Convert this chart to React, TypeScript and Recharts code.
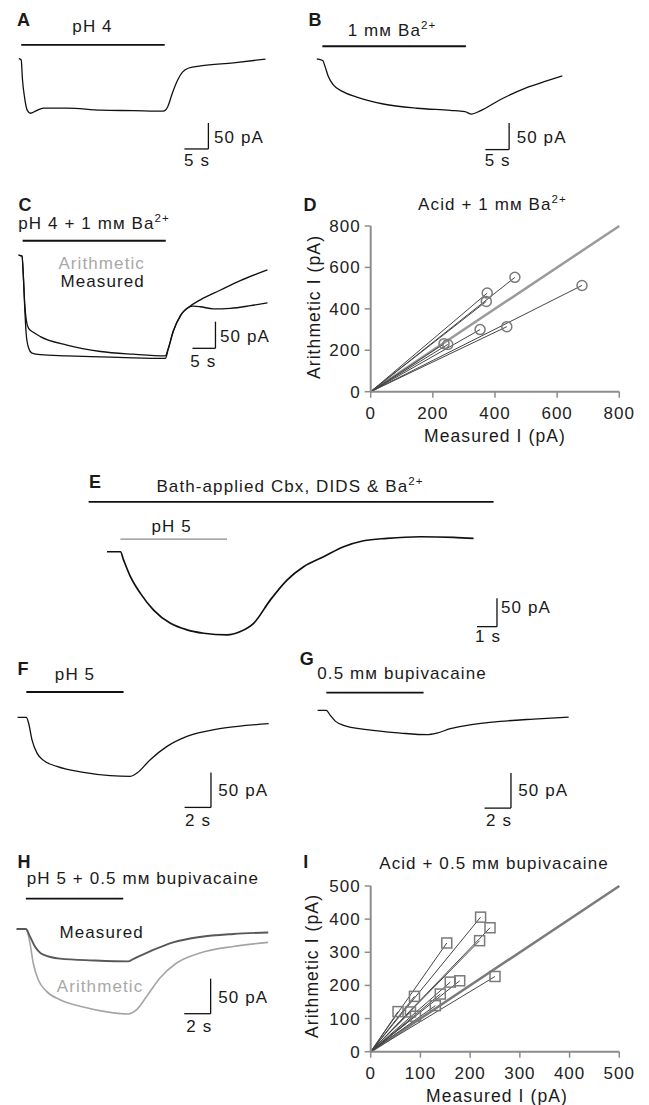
import React from 'react';
import {
  LineChart,
  Line,
  XAxis,
  YAxis,
  ReferenceLine,
  ScatterChart,
  Scatter,
} from 'recharts';

// Traces: [time (s), current (pA)]
const traceA = [[0, 0], [0.5, -2.5], [0.77, -41], [1.19, -74], [1.75, -99], [2.44, -105], [3.48, -101], [5.15, -95], [10.1, -95], [17, -99], [23.9, -100], [30.1, -101], [31, -93], [32, -66], [33.1, -41], [34.1, -26], [35.4, -18], [37.9, -14], [44.7, -8], [51.4, -1]];
const traceB = [[0, 0], [1.26, -3], [1.75, -14.5], [2.44, -33], [3.49, -49], [5.6, -62], [8.42, -72], [14, -85], [21.1, -93], [28.1, -97], [31.2, -99.4], [32.6, -104], [34.4, -98], [38.6, -77], [44.2, -54], [48.4, -41.5], [51.7, -32]];
const traceCMeasured = [[0, 0], [0.74, -2], [1.02, -37.5], [1.35, -103], [1.67, -150], [2.17, -174], [2.91, -184], [4.72, -187], [10.5, -189], [17.8, -191], [24.9, -193], [31.9, -194], [32.5, -178], [33.6, -144], [35.2, -114], [36.9, -98.5], [38, -96], [39.5, -97], [42.3, -101], [46, -100], [50.4, -95], [54.1, -89.5]];
const traceCArith = [[0, 0], [0.74, -2], [1.02, -37.5], [1.35, -94], [1.67, -122], [2.17, -137.5], [3.2, -145], [4.72, -153], [10.5, -169], [17.8, -181], [24.9, -186], [31.9, -189], [32.5, -176], [33.6, -143], [35.2, -113], [36.9, -98.5], [39.5, -84], [43.8, -66], [48.2, -48], [54.1, -28]];
const traceE = [[0, 0], [0.67, 0], [0.83, -14.7], [1.17, -44], [1.67, -73.5], [2.33, -103], [3.17, -126.5], [4, -138], [4.83, -144], [6, -147], [6.67, -141], [7.33, -126.5], [8.17, -85], [9, -50], [9.83, -26.5], [10.83, -8.8], [11.83, 8.8], [12.83, 19.4], [14, 23.7], [15.67, 26.5], [17.33, 25.4], [18.33, 23.7]];
const traceF = [[0, 0], [0.66, 0], [0.83, -8], [1.09, -32], [1.47, -51], [1.97, -61.4], [2.98, -70], [5, -78.6], [7.02, -83.3], [8.54, -84.3], [9.05, -79.4], [10.05, -60.4], [11.32, -41.4], [12.83, -27.1], [15.1, -16.6], [17.12, -11.9], [19.02, -9]];
const traceG = [[0, 0], [0.66, 0], [0.96, -7.1], [1.34, -15.3], [1.97, -21.4], [3.74, -27.6], [6.27, -32.4], [8.29, -34.7], [9.05, -32.4], [10.05, -26.1], [11.32, -21.4], [13.84, -15.7], [16.36, -12.4], [19.02, -9.6]];
const traceHMeasured = [[0, 0], [0.7, 0], [1.01, -10.6], [1.39, -24.9], [2.02, -36.7], [3.28, -42.4], [5.8, -44.9], [8.45, -46.3], [8.83, -42.9], [10.1, -32], [11.86, -19.1], [13.89, -11.4], [16.41, -7.1], [19.06, -4.9]];
const traceHArith = [[0, 0], [0.7, 0], [1.01, -20], [1.26, -48.6], [1.64, -72.4], [2.27, -89.1], [3.28, -101], [5.05, -111.4], [7.07, -119.1], [8.45, -121.4], [9.09, -115.3], [9.85, -96.3], [10.86, -70], [12.12, -48.6], [13.89, -34.3], [16.41, -24.9], [19.06, -19.1]];

// Application periods (s)
const barA = [0.5, 30.4];
const barB = [1.18, 31.4];
const barC = [0.87, 32];
const barEBath = [-0.92, 19.33];
const barEAcid = [0.67, 6];
const barF = [0.66, 8.03];
const barG = [0.66, 8.03];
const barH = [0.7, 8.08];

// Scatter: measured vs arithmetic sum (pA)
const dMeasured = [464, 375, 372, 352, 438, 680, 236, 248];
const dArith = [552, 476, 436, 300, 314, 513, 232, 228];
const iMeasured = [221, 240, 219, 153, 88, 55, 80, 90, 130, 140, 160, 179, 250];
const iArith = [406, 374, 335, 328, 167, 121, 120, 107, 139, 174, 210, 214, 227];
const dTicks = [0, 200, 400, 600, 800];
const iTicks = [0, 100, 200, 300, 400, 500];

const FONT = '"Liberation Sans", Arial, Helvetica, sans-serif';
const toPts = (arr: number[][]) => arr.map(([t, i]) => ({ t, i }));

function Txt({ x, y, anchor = 'middle', size = 17, color = '#1a1a1a', bold = false, rotate = false, children }: any) {
  const tx = anchor === 'middle' ? '-50%' : anchor === 'end' ? '-100%' : '0';
  return (
    <div
      style={{
        position: 'absolute',
        left: x,
        top: y,
        transform: `translate(${tx}, -50%)${rotate ? ' rotate(-90deg)' : ''}`,
        fontSize: size,
        fontWeight: bold ? 700 : 400,
        letterSpacing: bold ? 0 : 1.1,
        color,
        lineHeight: 1,
        whiteSpace: 'nowrap',
      }}
    >
      {children}
    </div>
  );
}

const Sup = ({ children }: any) => (
  <sup style={{ fontSize: '0.68em', lineHeight: 0, verticalAlign: '0.55em' }}>{children}</sup>
);

interface Series { data: number[][]; color: string; width: number }
interface Bar { span: number[]; level: number; color?: string; width?: number }

function TracePanel({ x0, y0, sx, sy, t, i, series, bars, scale }: {
  x0: number; y0: number; sx: number; sy: number; t: number[]; i: number[];
  series: Series[]; bars: Bar[]; scale: { t: number; i: number; dt: number; di: number };
}) {
  const left = x0 + t[0] * sx;
  const width = (t[1] - t[0]) * sx;
  const top = y0 - i[1] * sy;
  const height = (i[1] - i[0]) * sy;
  return (
    <div style={{ position: 'absolute', left, top }}>
      <LineChart width={width} height={height} margin={{ top: 0, right: 0, bottom: 0, left: 0 }}>
        <XAxis type="number" dataKey="t" domain={t} allowDataOverflow hide />
        <YAxis type="number" dataKey="i" domain={i} allowDataOverflow hide />
        {bars.map((b, k) => (
          <ReferenceLine
            key={k}
            segment={[{ x: b.span[0], y: b.level }, { x: b.span[1], y: b.level }]}
            stroke={b.color || '#111'}
            strokeWidth={b.width || 1.8}
          />
        ))}
        <ReferenceLine
          segment={[{ x: scale.t, y: scale.i }, { x: scale.t, y: scale.i - scale.di }]}
          stroke="#111"
          strokeWidth={1.3}
        />
        <ReferenceLine
          segment={[{ x: scale.t - scale.dt, y: scale.i - scale.di }, { x: scale.t, y: scale.i - scale.di }]}
          stroke="#111"
          strokeWidth={1.3}
        />
        {series.map((s, k) => (
          <Line
            key={k}
            data={toPts(s.data)}
            dataKey="i"
            type="monotone"
            dot={false}
            stroke={s.color}
            strokeWidth={s.width}
            isAnimationActive={false}
          />
        ))}
      </LineChart>
    </div>
  );
}

const circleMarker = (p: any) => (
  <circle cx={p.cx} cy={p.cy} r={5} fill="none" stroke="#7a7a7a" strokeWidth={1.5} />
);
const squareMarker = (p: any) => (
  <rect x={p.cx - 5} y={p.cy - 5} width={10} height={10} fill="none" stroke="#7a7a7a" strokeWidth={1.5} />
);

function ScatterPanel({ left, top, height, max, ticks, xs, ys, marker, unityColor }: any) {
  const pts = xs.map((x: number, k: number) => ({ x, y: ys[k] }));
  const axisStyle = { stroke: '#8c8c8c', strokeWidth: 2 };
  const tickStyle = { fill: '#222', fontSize: 17, letterSpacing: 1 };
  return (
    <div style={{ position: 'absolute', left, top }}>
      <ScatterChart
        width={340}
        height={height}
        margin={{ top: 36, right: 20.7, bottom: height - 36 - 165.7 - 30, left: 20.7 }}
      >
        <XAxis
          type="number"
          dataKey="x"
          domain={[0, max]}
          ticks={ticks}
          height={30}
          axisLine={axisStyle}
          tickLine={{ stroke: '#8c8c8c', strokeWidth: 1.5 }}
          tickSize={6}
          tickMargin={9}
          tick={tickStyle}
        />
        <YAxis
          type="number"
          dataKey="y"
          domain={[0, max]}
          ticks={ticks}
          width={50}
          axisLine={axisStyle}
          tickLine={{ stroke: '#8c8c8c', strokeWidth: 1.5 }}
          tickSize={6}
          tickMargin={4}
          tick={tickStyle}
        />
        <ReferenceLine segment={[{ x: 0, y: 0 }, { x: max, y: max }]} stroke={unityColor} strokeWidth={2.5} />
        {pts.map((p: any, k: number) => (
          <ReferenceLine key={k} segment={[{ x: 0, y: 0 }, p]} stroke="#454545" strokeWidth={1} />
        ))}
        <Scatter data={pts} shape={marker} isAnimationActive={false} />
      </ScatterChart>
    </div>
  );
}

export default function App() {
  return (
    <div
      style={{
        position: 'absolute',
        left: 0,
        top: 0,
        width: 649,
        height: 1105,
        background: '#fff',
        fontFamily: FONT,
        overflow: 'hidden',
      }}
    >
      {/* A */}
      <TracePanel x0={18.3} y0={58.7} sx={4.8} sy={0.52} t={[-1, 55]} i={[-180, 32]}
        series={[{ data: traceA, color: '#111', width: 1.3 }]}
        bars={[{ span: barA, level: 26.3 }]}
        scale={{ t: 39.5, i: -123.7, dt: 5, di: 50 }} />
      <Txt x={23.5} y={20} size={18} bold>A</Txt>
      <Txt x={92.5} y={26}>pH 4</Txt>
      <Txt x={214} y={137} anchor="start">50 pA</Txt>
      <Txt x={197} y={160}>5 s</Txt>

      {/* B */}
      <TracePanel x0={316.7} y0={59} sx={4.75} sy={0.53} t={[-1, 55]} i={[-180, 32]}
        series={[{ data: traceB, color: '#111', width: 1.3 }]}
        bars={[{ span: barB, level: 24 }]}
        scale={{ t: 40.5, i: -121, dt: 5, di: 50 }} />
      <Txt x={315} y={20} size={18} bold>B</Txt>
      <Txt x={392} y={30}>1 mм Ba<Sup>2+</Sup></Txt>
      <Txt x={516.7} y={137} anchor="start">50 pA</Txt>
      <Txt x={497.7} y={160}>5 s</Txt>

      {/* C */}
      <TracePanel x0={18.3} y0={255} sx={4.6} sy={0.533} t={[-1, 56]} i={[-200, 32]}
        series={[
          { data: traceCArith, color: '#111', width: 1.3 },
          { data: traceCMeasured, color: '#111', width: 1.3 },
        ]}
        bars={[{ span: barC, level: 26.8 }]}
        scale={{ t: 42.8, i: -125, dt: 5, di: 50 }} />
      <Txt x={25} y={205} size={18} bold>C</Txt>
      <Txt x={18.3} y={223} anchor="start">pH 4 + 1 mм Ba<Sup>2+</Sup></Txt>
      <Txt x={101.7} y={262.7} color="#a8a8a8">Arithmetic</Txt>
      <Txt x={102.7} y={281}>Measured</Txt>
      <Txt x={220} y={335.7} anchor="start">50 pA</Txt>
      <Txt x={203.3} y={360.7}>5 s</Txt>

      {/* D */}
      <ScatterPanel left={300} top={190} height={270} max={800} ticks={dTicks}
        xs={dMeasured} ys={dArith} marker={circleMarker} unityColor="#9a9a9a" />
      <Txt x={310} y={205} size={18} bold>D</Txt>
      <Txt x={492.5} y={204}>Acid + 1 mм Ba<Sup>2+</Sup></Txt>
      <Txt x={495} y={436.5} size={17.5}>Measured I (pA)</Txt>
      <Txt x={314.5} y={306.7} size={17.5} rotate>Arithmetic I (pA)</Txt>

      {/* E */}
      <TracePanel x0={106.7} y0={551.7} sx={20} sy={0.566} t={[-1.5, 20]} i={[-150, 95]}
        series={[{ data: traceE, color: '#111', width: 1.7 }]}
        bars={[
          { span: barEBath, level: 88.3 },
          { span: barEAcid, level: 22.4, color: '#8a8a8a', width: 1.2 },
        ]}
        scale={{ t: 19.5, i: -82.3, dt: 1, di: 50 }} />
      <Txt x={95} y={481.7} size={18} bold>E</Txt>
      <Txt x={290} y={486}>Bath-applied Cbx, DIDS &amp; Ba<Sup>2+</Sup></Txt>
      <Txt x={171.7} y={526}>pH 5</Txt>
      <Txt x={501} y={606.7} anchor="start">50 pA</Txt>
      <Txt x={488} y={636}>1 s</Txt>

      {/* F */}
      <TracePanel x0={17.3} y0={717.7} sx={13.2} sy={0.7} t={[-0.5, 20]} i={[-135, 42]}
        series={[{ data: traceF, color: '#111', width: 1.3 }]}
        bars={[{ span: barF, level: 36.3 }]}
        scale={{ t: 14.65, i: -78.6, dt: 2, di: 50 }} />
      <Txt x={23} y={669} size={18} bold>F</Txt>
      <Txt x={75} y={674}>pH 5</Txt>
      <Txt x={218.3} y={790} anchor="start">50 pA</Txt>
      <Txt x={198} y={820}>2 s</Txt>

      {/* G */}
      <TracePanel x0={317.3} y0={710} sx={13.2} sy={0.7} t={[-0.5, 20]} i={[-145, 32]}
        series={[{ data: traceG, color: '#111', width: 1.3 }]}
        bars={[{ span: barG, level: 25.3 }]}
        scale={{ t: 14.65, i: -89.6, dt: 2, di: 50 }} />
      <Txt x={306.7} y={659} size={18} bold>G</Txt>
      <Txt x={317.3} y={673} anchor="start">0.5 mм bupivacaine</Txt>
      <Txt x={518.3} y={790} anchor="start">50 pA</Txt>
      <Txt x={499} y={820}>2 s</Txt>

      {/* H */}
      <TracePanel x0={16.7} y0={929.3} sx={13.2} sy={0.7} t={[-0.5, 20]} i={[-130, 50]}
        series={[
          { data: traceHArith, color: '#a5a5a5', width: 1.6 },
          { data: traceHMeasured, color: '#585858', width: 1.9 },
        ]}
        bars={[{ span: barH, level: 43.3 }]}
        scale={{ t: 14.7, i: -71, dt: 2, di: 50 }} />
      <Txt x={24} y={861.5} size={18} bold>H</Txt>
      <Txt x={26.7} y={878} anchor="start">pH 5 + 0.5 mм bupivacaine</Txt>
      <Txt x={101.7} y={932.3}>Measured</Txt>
      <Txt x={100} y={986} color="#a8a8a8">Arithmetic</Txt>
      <Txt x={218.3} y={996.7} anchor="start">50 pA</Txt>
      <Txt x={199.3} y={1026}>2 s</Txt>

      {/* I */}
      <ScatterPanel left={300} top={850} height={255} max={500} ticks={iTicks}
        xs={iMeasured} ys={iArith} marker={squareMarker} unityColor="#7a7a7a" />
      <Txt x={305.7} y={862} size={18} bold>I</Txt>
      <Txt x={494} y={863}>Acid + 0.5 mм bupivacaine</Txt>
      <Txt x={497} y={1097} size={17.5}>Measured I (pA)</Txt>
      <Txt x={313} y={966} size={17.5} rotate>Arithmetic I (pA)</Txt>
    </div>
  );
}
